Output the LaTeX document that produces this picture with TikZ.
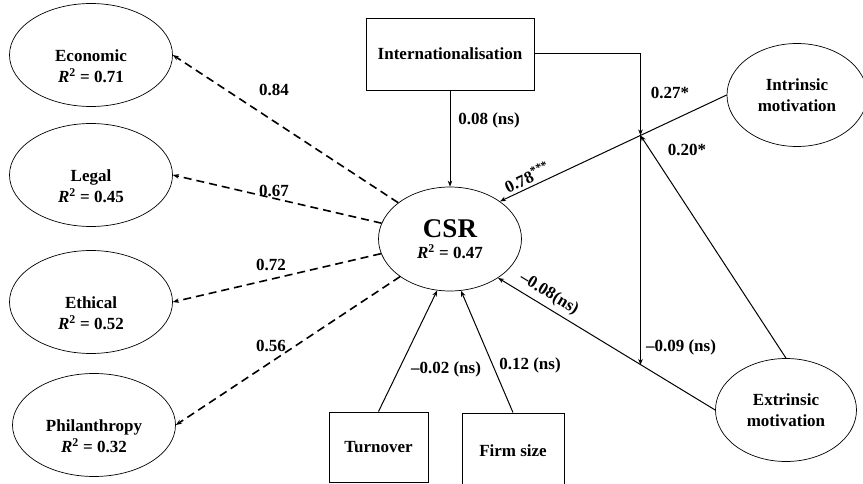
\documentclass[tikz,border=0pt]{standalone}
\usepackage{fontspec}
\setmainfont{Liberation Serif}
\usetikzlibrary{shapes.geometric,arrows.meta,calc}
\newcommand{\rsq}{{\itshape R}\textsuperscript{2}}

\begin{document}
\begin{tikzpicture}[
  x=1pt, y=-1pt,
  every node/.style={font=\fontsize{17}{21}\selectfont\bfseries, align=center, inner sep=0pt},
  >={Stealth[length=6pt,width=4.5pt]}
]
\tikzset{
  dimbox/.style={draw, ellipse, line width=0.7pt, minimum width=163pt, minimum height=103pt,
    label={[yshift=-11pt]center:#1}},
  latent/.style={draw, ellipse, line width=0.7pt, minimum width=141pt, minimum height=103pt},
  observed/.style={draw, rectangle, line width=0.9pt},
  effect/.style={->, line width=1pt},
  loading/.style={->, dash pattern=on 8pt off 5pt, line width=1.6pt}
}
\useasboundingbox (0,0) rectangle (863,484);
\clip (0,0) rectangle (863,484);

\node[dimbox={Economic\\\rsq{} = 0.71}] (eco) at (91,55) {};
\node[dimbox={Legal\\\rsq{} = 0.45}] (leg) at (91,175) {};
\node[dimbox={Ethical\\\rsq{} = 0.52}] (eth) at (91,302) {};
\node[dimbox={Philanthropy\\\rsq{} = 0.32}] (phi) at (94,425) {};
\node[latent, minimum width=143pt, minimum height=104pt] (csr) at (450,239)
  {{\fontsize{27}{30}\selectfont CSR}\\\rsq{} = 0.47};
\node[observed, minimum width=168pt, minimum height=72pt] (intl) at (450,54) {Internationalisation};
\node[latent, minimum width=140pt] (intr) at (797,95) {Intrinsic\\motivation};
\node[latent] (extr) at (786,410) {Extrinsic\\motivation};
\node[observed, minimum width=99pt, minimum height=70pt] (turn) at (378.5,447) {Turnover};
\node[observed, minimum width=102pt, minimum height=75pt] (firm) at (513,450.5) {Firm size};

\coordinate (m1) at ($(intr.west)!0.38!(csr.37)$);
\coordinate (m2) at ($(extr.west)!0.341!(csr.-39)$);

\draw[effect] (intl) -- (csr);
\draw[effect] (intl.east) -| (m1);
\draw[effect] (m1) -- (m1 |- m2);
\draw[effect] (intr.west) -- (csr.37);
\draw[effect] (extr.north) -- (m1);
\draw[effect] (extr.west) -- (csr.-39);
\draw[effect] (turn.north) -- (csr.256);
\draw[effect] (firm.north) -- (csr.282);
\draw[loading] (csr.145) -- (eco.east);
\draw[loading] (csr.167) -- (leg.east);
\draw[loading] (csr.192) -- (eth.east);
\draw[loading] (csr.217) -- (phi.east);

\node (c-intl) at (489,120) {0.08 (ns)};
\node (c-mod1) at (670,93) {0.27*};
\node (c-extrm) at (687,150) {0.20*};
\node (c-mod2) at (681,347) {–0.09 (ns)};
\node[rotate=25] (c-intr) at (527,177) {0.78\textsuperscript{***}};
\node[rotate=-31] (c-extr) at (549,294) {–0.08(ns)};
\node (c-turn) at (446,369) {–0.02 (ns)};
\node (c-firm) at (530,365) {0.12 (ns)};
\node (c-eco) at (274,90) {0.84};
\node (c-leg) at (274,191) {0.67};
\node (c-eth) at (271,265) {0.72};
\node (c-phi) at (271,346) {0.56};
\end{tikzpicture}
\end{document}
